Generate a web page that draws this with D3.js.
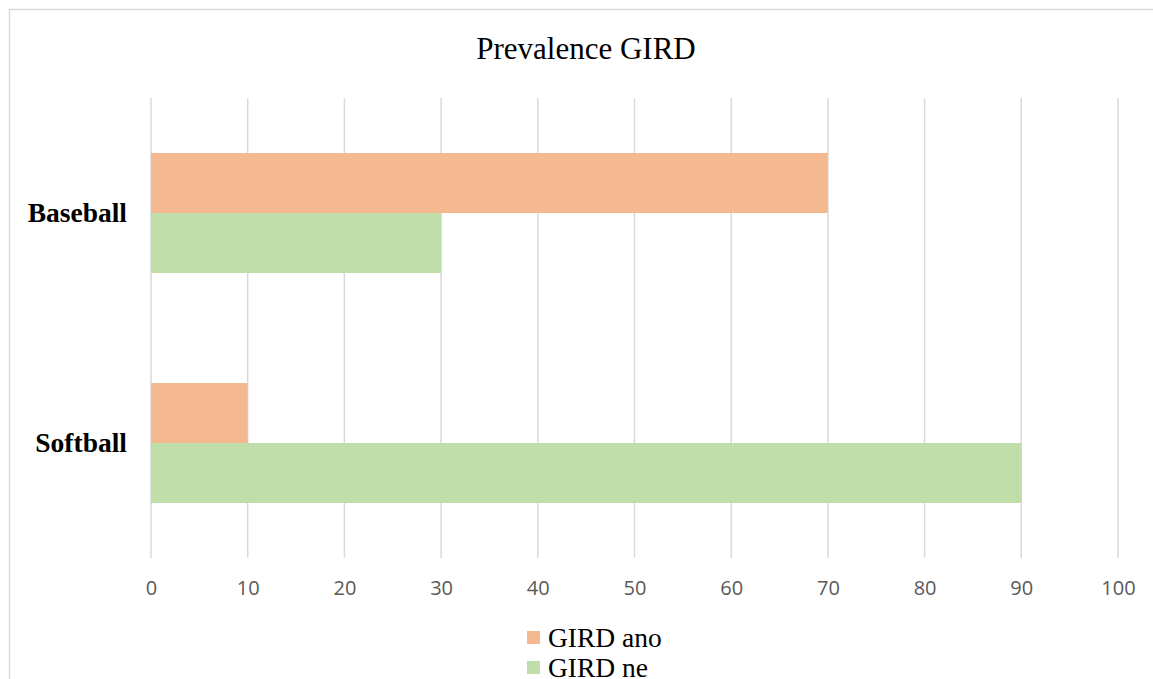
<!DOCTYPE html>
<html><head><meta charset="utf-8">
<script src="https://cdn.jsdelivr.net/npm/d3@7"></script>
<style>html,body{margin:0;padding:0;background:#fff;}svg{display:block;}</style>
</head><body>
<svg id="c" width="1153" height="679"></svg>
<script>
const title = "Prevalence GIRD";
const categories = ["Baseball", "Softball"];
const seriesNames = ["GIRD ano", "GIRD ne"];
const girdAno = [70, 10];
const girdNe = [30, 90];
const tickValues = [0, 10, 20, 30, 40, 50, 60, 70, 80, 90, 100];
const colors = ["#f4b990", "#c0dea9"];

const svg = d3.select("#c");
svg.append("rect").attr("x", 9.5).attr("y", 9.5).attr("width", 1160).attr("height", 700)
  .attr("fill", "#fff").attr("stroke", "#d9d9d9").attr("stroke-width", 1.5);

const x = d3.scaleLinear().domain([0, 100]).range([151, 1118]);
const y = d3.scaleBand().domain(categories).range([98, 558]);
const inner = d3.scaleBand().domain(seriesNames).range([0, y.bandwidth()]).paddingInner(0).paddingOuter(0.9167);

svg.append("text").attr("x", 586).attr("y", 59).attr("text-anchor", "middle")
  .attr("font-family", "Liberation Serif").attr("font-size", 31).attr("fill", "#000").text(title);

// grid
svg.append("g").selectAll("line").data(tickValues).join("line")
  .attr("x1", d => x(d)).attr("x2", d => x(d)).attr("y1", 98).attr("y2", 558)
  .attr("stroke", "#d9d9d9").attr("stroke-width", 1.5);

const data = [];
categories.forEach((c, i) => {
  data.push({cat: c, s: seriesNames[0], v: girdAno[i], col: colors[0]});
  data.push({cat: c, s: seriesNames[1], v: girdNe[i], col: colors[1]});
});
svg.append("g").selectAll("rect").data(data).join("rect")
  .attr("x", x(0)).attr("y", d => y(d.cat) + inner(d.s))
  .attr("width", d => x(d.v) - x(0)).attr("height", inner.bandwidth())
  .attr("fill", d => d.col);

// x axis labels
const xAxis = d3.axisBottom(x).tickValues(tickValues).tickSize(0).tickPadding(0);
const gx = svg.append("g").attr("transform", "translate(0,581)").call(xAxis);
gx.select(".domain").remove();
gx.selectAll("text").attr("font-family", "Open Sans").attr("font-size", 20).attr("fill", "#595959").attr("dy", "0.71em");

// y axis labels
const yAxis = d3.axisLeft(y).tickSize(0).tickPadding(0);
const gy = svg.append("g").attr("transform", "translate(127,0)").call(yAxis);
gy.select(".domain").remove();
gy.selectAll("text").attr("font-family", "Liberation Serif").attr("font-weight", "bold")
  .attr("font-size", 27.5).attr("fill", "#000");

// legend
const leg = svg.append("g");
seriesNames.forEach((s, i) => {
  const yy = 631 + i * 30;
  leg.append("rect").attr("x", 527).attr("y", yy).attr("width", 13).attr("height", 13).attr("fill", colors[i]);
  leg.append("text").attr("x", 548).attr("y", yy + 16).attr("font-family", "Liberation Serif")
    .attr("font-size", 27.5).attr("fill", "#000").text(s);
});
</script>
</body></html>
